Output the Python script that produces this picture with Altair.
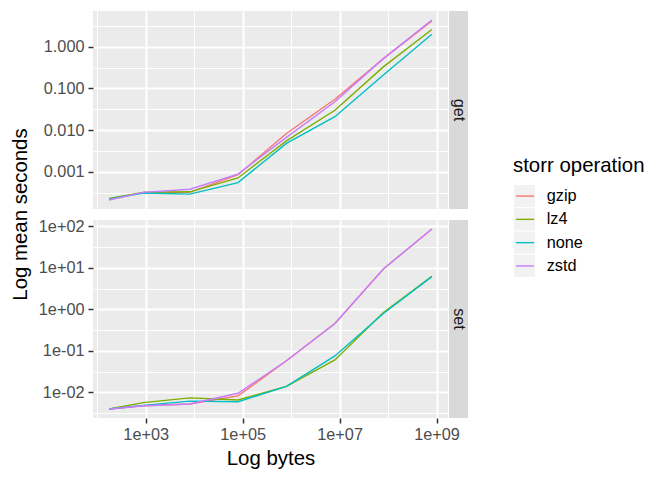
import altair as alt
import numpy as np
import pandas as pd

# object sizes (bytes) and the four compression settings
bytes_sizes = [176, 896, 8096, 80096, 800096, 8000096, 80000096, 800000096]
operations = ["gzip", "lz4", "none", "zstd"]
op_colors = ["#F8766D", "#7CAE00", "#00BFC4", "#C77CFF"]

# mean seconds, "get"
get_gzip = [0.00022, 0.00032, 0.00032, 0.00085, 0.0083, 0.055, 0.52, 4.2]
get_lz4 = [0.00023, 0.00032, 0.00033, 0.00071, 0.0055, 0.030, 0.33, 2.6]
get_none = [0.00022, 0.00031, 0.00029, 0.00055, 0.0048, 0.021, 0.21, 2.0]
get_zstd = [0.00021, 0.00032, 0.00038, 0.00088, 0.0067, 0.048, 0.52, 4.4]

# mean seconds, "set"
set_gzip = [0.0040, 0.0048, 0.0053, 0.0083, 0.058, 0.46, 9.5, 87]
set_lz4 = [0.0040, 0.0057, 0.0074, 0.0066, 0.014, 0.061, 0.85, 6.3]
set_none = [0.0040, 0.0049, 0.0062, 0.0060, 0.014, 0.076, 0.80, 6.2]
set_zstd = [0.0040, 0.0048, 0.0053, 0.0096, 0.058, 0.46, 9.5, 87]

# axis breaks (major + minor grid)
x_major = [1e3, 1e5, 1e7, 1e9]
x_minor = [1e2, 1e4, 1e6, 1e8]
get_major = [0.001, 0.01, 0.1, 1]
get_minor = [10 ** -3.5, 10 ** -2.5, 10 ** -1.5, 10 ** -0.5, 10 ** 0.5]
set_major = [0.01, 0.1, 1, 10, 100]
set_minor = [10 ** -2.5, 10 ** -1.5, 10 ** -0.5, 10 ** 0.5, 10 ** 1.5]

series = {
    "get": dict(zip(operations, [get_gzip, get_lz4, get_none, get_zstd])),
    "set": dict(zip(operations, [set_gzip, set_lz4, set_none, set_zstd])),
}
rows = []
for action, ops in series.items():
    for op, vals in ops.items():
        for b, s in zip(bytes_sizes, vals):
            rows.append({"action": action, "operation": op, "bytes": b, "seconds": s})
df = pd.DataFrame(rows)

PANEL_W, PANEL_H = 355, 198
LABEL_SIZE, TITLE_SIZE = 16.3, 20.4

# "1e+03" style labels, like R's default scientific format
sci_expr = ("'1e' + (datum.value < 1 ? '-' : '+') + "
            "format(abs(round(log(datum.value) / LN10)), '02d')")


def log_domain(values):
    """ggplot-style 5% expansion on a log10 scale."""
    lo, hi = np.log10(min(values)), np.log10(max(values))
    pad = 0.05 * (hi - lo)
    return [10 ** (lo - pad), 10 ** (hi + pad)]


x_domain = log_domain(bytes_sizes)


def grid_axis(values, orient, width):
    return alt.Axis(values=values, orient=orient, grid=True, gridColor="white",
                    gridWidth=width, labels=False, ticks=False, domain=False)


def label_axis(values, orient, **kw):
    return alt.Axis(values=values, orient=orient, grid=True, gridColor="white",
                    gridWidth=2, domain=False, labelColor="#4D4D4D",
                    labelFontSize=LABEL_SIZE, tickColor="#333333", tickSize=5,
                    tickWidth=1.5, titleFontSize=TITLE_SIZE, titleFontWeight="normal",
                    titleColor="black", **kw)


def panel(action, y_major, y_minor, y_kw, bottom):
    data = df[df.action == action]
    xscale = alt.Scale(type="log", domain=x_domain, nice=False)
    yscale = alt.Scale(type="log", domain=log_domain(data.seconds), nice=False)
    base = alt.Chart(data)

    minor = base.mark_line(opacity=0).encode(
        x=alt.X("bytes:Q", scale=xscale, title=None, axis=grid_axis(x_minor, "bottom", 1)),
        y=alt.Y("seconds:Q", scale=yscale, title=None, axis=grid_axis(y_minor, "left", 1)),
    )

    if bottom:
        x_axis = label_axis(x_major, "bottom", labelExpr=sci_expr, labelPadding=3, titlePadding=6)
        x_enc = alt.X("bytes:Q", scale=xscale, title="Log bytes", axis=x_axis)
    else:
        x_enc = alt.X("bytes:Q", scale=xscale, title=None,
                      axis=grid_axis(x_major, "bottom", 2))

    lines = base.mark_line(strokeWidth=1.4).encode(
        x=x_enc,
        y=alt.Y("seconds:Q", scale=yscale, title=None,
                axis=label_axis(y_major, "left", labelPadding=4, **y_kw)),
        color=alt.Color("operation:N", scale=alt.Scale(domain=operations, range=op_colors),
                        legend=None),
        detail="operation:N",
    )

    strip_data = alt.Chart(pd.DataFrame({"label": [action]}))
    strip = strip_data.mark_rect(color="#D9D9D9").encode(
        x=alt.value(PANEL_W + 1), x2=alt.value(PANEL_W + 20),
        y=alt.value(0), y2=alt.value(PANEL_H),
    )
    strip_text = strip_data.mark_text(angle=90, baseline="middle", align="center",
                                      fontSize=LABEL_SIZE, color="#1A1A1A").encode(
        x=alt.value(PANEL_W + 10.5), y=alt.value(PANEL_H / 2), text="label:N",
    )
    layers = [minor, lines, strip, strip_text]

    if not bottom:
        ytitle = alt.Chart(pd.DataFrame({"t": ["Log mean seconds"]})).mark_text(
            angle=270, baseline="alphabetic", align="center", fontSize=TITLE_SIZE,
            color="black",
        ).encode(x=alt.value(-66.5), y=alt.value(PANEL_H + 5.5), text="t:N")
        layers.append(ytitle)

    return (
        alt.layer(*layers)
        .resolve_axis(x="independent", y="independent")
        .properties(width=PANEL_W, height=PANEL_H,
                    view=alt.ViewBackground(fill="#EBEBEB", strokeWidth=0))
    )


top = panel("get", get_major, get_minor, {"format": ".3f"}, bottom=False)
bottom = panel("set", set_major, set_minor, {"labelExpr": sci_expr}, bottom=True)

# hand-built legend so each key gets ggplot's grey square
legend_base = alt.Chart(pd.DataFrame({"operation": operations}))
leg_y = alt.Scale(domain=operations, range=[174, 266], paddingInner=0.05, paddingOuter=0)
keys = legend_base.mark_rect(color="#F2F2F2").encode(
    x=alt.value(1), x2=alt.value(22),
    y=alt.Y("operation:N", scale=leg_y, axis=None),
)
key_lines = legend_base.mark_rule(strokeWidth=1.4).encode(
    x=alt.value(3), x2=alt.value(21),
    y=alt.Y("operation:N", scale=leg_y, axis=None, bandPosition=0.5),
    color=alt.Color("operation:N", scale=alt.Scale(domain=operations, range=op_colors),
                    legend=None),
)
key_text = legend_base.mark_text(align="left", baseline="middle", fontSize=LABEL_SIZE,
                                 color="black").encode(
    x=alt.value(33.7),
    y=alt.Y("operation:N", scale=leg_y, axis=None, bandPosition=0.5),
    text="operation:N",
)
leg_title = alt.Chart(pd.DataFrame({"t": ["storr operation"]})).mark_text(
    align="left", baseline="alphabetic", fontSize=TITLE_SIZE, color="black",
).encode(x=alt.value(0), y=alt.value(160.7), text="t:N")

legend = alt.layer(keys, key_lines, key_text, leg_title).properties(
    width=140, height=2 * PANEL_H + 11,
    view=alt.ViewBackground(strokeWidth=0),
)

chart = (
    alt.hconcat(
        alt.vconcat(top, bottom, spacing=11, bounds="flush"),
        legend,
        spacing=45,
    )
    .properties(padding={"left": 2, "top": 3, "right": 2, "bottom": 0})
    .configure(font="Liberation Sans")
    .configure_view(strokeWidth=0)
)

chart.save("out.html", embed_options={"renderer": "svg", "actions": False})
